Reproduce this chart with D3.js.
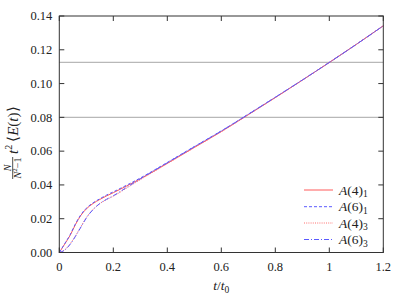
<!DOCTYPE html>
<html>
<head>
<meta charset="utf-8">
<script src="https://cdn.jsdelivr.net/npm/d3@7"></script>
<style>
  body { margin: 0; background: #fff; }
  text { font-family: "Liberation Serif", serif; fill: #222; }
</style>
</head>
<body>
<svg></svg>
<script>
let WIDTH = 408;
let HEIGHT = 296;

// flow time t/t0 and the four measurements
const tVals = [0, 0.02, 0.04, 0.06, 0.08, 0.10, 0.125, 0.15, 0.175, 0.2, 0.25, 0.3, 0.4, 0.5, 0.6, 0.7, 0.8, 0.9, 1.0, 1.1, 1.2];
const A4_1 = [0, 0.0050, 0.0101, 0.0166, 0.0220, 0.0258, 0.0290, 0.0314, 0.0335, 0.0354, 0.0394, 0.0436, 0.0528, 0.0622, 0.0716, 0.0816, 0.0917, 0.1020, 0.1125, 0.1232, 0.1342];
const A6_1 = [0, 0.0052, 0.0105, 0.0170, 0.0224, 0.0262, 0.0294, 0.0318, 0.0340, 0.0359, 0.0399, 0.0441, 0.0533, 0.0627, 0.0720, 0.0819, 0.0919, 0.1021, 0.1125, 0.1232, 0.1342];
const A4_3 = [0, 0.0016, 0.0051, 0.0099, 0.0153, 0.0206, 0.0255, 0.0289, 0.0313, 0.0333, 0.0382, 0.0431, 0.0526, 0.0621, 0.0715, 0.0815, 0.0917, 0.1020, 0.1125, 0.1232, 0.1342];
const A6_3 = [0, 0.0014, 0.0048, 0.0096, 0.0150, 0.0204, 0.0254, 0.0290, 0.0315, 0.0336, 0.0386, 0.0436, 0.0531, 0.0626, 0.0719, 0.0818, 0.0919, 0.1021, 0.1125, 0.1232, 0.1342];

const xTicks = [0, 0.2, 0.4, 0.6, 0.8, 1, 1.2];
const yTicks = [0, 0.02, 0.04, 0.06, 0.08, 0.10, 0.12, 0.14];
const refLines = [0.1125, 0.08];

const series = [
    {name: 'A(4)', sub: '1', values: A4_1, color: '#ff5a5a', dash: null},
    {name: 'A(6)', sub: '1', values: A6_1, color: '#5a5aff', dash: '3,2'},
    {name: 'A(4)', sub: '3', values: A4_3, color: '#ff7070', dash: '1,1.2'},
    {name: 'A(6)', sub: '3', values: A6_3, color: '#5a5aff', dash: '5,2,1,2'}
];

let svg = d3.select('svg')
    .attr('width', WIDTH)
    .attr('height', HEIGHT);

const margin = {left: 59.3, right: WIDTH - 383.3, top: 16, bottom: HEIGHT - 252.5};

let x = d3.scaleLinear().domain([0, 1.2]).range([margin.left, WIDTH - margin.right]);
let y = d3.scaleLinear().domain([0, 0.14]).range([HEIGHT - margin.bottom, margin.top]);

// reference lines
svg.append('g')
    .selectAll('line')
    .data(refLines)
    .enter()
    .append('line')
        .attr('x1', x(0))
        .attr('x2', x(1.2))
        .attr('y1', (d) => y(d))
        .attr('y2', (d) => y(d))
        .attr('stroke', '#b8b8b8')
        .attr('stroke-width', 1.2);

// curves
let line = d3.line()
    .x((d, i) => x(tVals[i]))
    .y((d) => y(d))
    .curve(d3.curveMonotoneX);

svg.append('g')
    .selectAll('path')
    .data(series)
    .enter()
    .append('path')
        .attr('d', (d) => line(d.values))
        .attr('fill', 'none')
        .attr('stroke', (d) => d.color)
        .attr('stroke-width', 1)
        .attr('stroke-dasharray', (d) => d.dash);

// ticks on all four sides, pointing inward
const tickLen = 5;
let ticks = svg.append('g').attr('stroke', '#333').attr('stroke-width', 1);
xTicks.forEach((t) => {
    ticks.append('line').attr('x1', x(t)).attr('x2', x(t)).attr('y1', y(0)).attr('y2', y(0) - tickLen);
    ticks.append('line').attr('x1', x(t)).attr('x2', x(t)).attr('y1', y(0.14)).attr('y2', y(0.14) + tickLen);
});
yTicks.forEach((t) => {
    ticks.append('line').attr('x1', x(0)).attr('x2', x(0) + tickLen).attr('y1', y(t)).attr('y2', y(t));
    ticks.append('line').attr('x1', x(1.2)).attr('x2', x(1.2) - tickLen).attr('y1', y(t)).attr('y2', y(t));
});

// frame
svg.append('rect')
    .attr('x', x(0))
    .attr('y', y(0.14))
    .attr('width', x(1.2) - x(0))
    .attr('height', y(0) - y(0.14))
    .attr('fill', 'none')
    .attr('stroke', '#333')
    .attr('stroke-width', 1);

// tick labels
svg.append('g')
    .selectAll('text')
    .data(xTicks)
    .enter()
    .append('text')
        .attr('x', (d) => x(d))
        .attr('y', y(0) + 18)
        .attr('text-anchor', 'middle')
        .attr('font-size', 12.5)
        .text((d) => d === 0 || d === 1 ? String(d) : d.toFixed(1));

svg.append('g')
    .selectAll('text')
    .data(yTicks)
    .enter()
    .append('text')
        .attr('x', x(0) - 7)
        .attr('y', (d) => y(d) + 4.3)
        .attr('text-anchor', 'end')
        .attr('font-size', 12.5)
        .text((d) => d.toFixed(2));

// x axis label
let xl = svg.append('text')
    .attr('x', (x(0) + x(1.2)) / 2)
    .attr('y', 290)
    .attr('text-anchor', 'middle')
    .attr('font-size', 13.5);
xl.append('tspan').attr('font-style', 'italic').text('t');
xl.append('tspan').text('/');
xl.append('tspan').attr('font-style', 'italic').text('t');
xl.append('tspan').attr('font-size', 9.5).attr('dy', 2.5).text('0');

// y axis label (rotated)
let yl = svg.append('g').attr('transform', 'translate(18,132) rotate(-90)');
yl.append('line')
    .attr('x1', -47).attr('x2', -25)
    .attr('y1', -5.3).attr('y2', -5.3)
    .attr('stroke', '#222').attr('stroke-width', 0.8);
yl.append('text')
    .attr('x', -36).attr('y', -7.3)
    .attr('text-anchor', 'middle')
    .attr('font-size', 10)
    .attr('font-style', 'italic')
    .text('N');
let den = yl.append('text')
    .attr('x', -36).attr('y', 2.8)
    .attr('text-anchor', 'middle')
    .attr('font-size', 10);
den.append('tspan').attr('font-style', 'italic').text('N');
den.append('tspan').attr('font-size', 7).attr('dy', -3.5).text('2');
den.append('tspan').attr('dy', 3.5).text('\u22121');
let yt = yl.append('text')
    .attr('x', -22).attr('y', 0)
    .attr('font-size', 15);
yt.append('tspan').attr('font-style', 'italic').text('t');
yt.append('tspan').attr('font-size', 10).attr('dy', -6).text('2');
yt.append('tspan').attr('dy', 6).text('\u2009\u27E8');
yt.append('tspan').attr('font-style', 'italic').text('E');
yt.append('tspan').text('(');
yt.append('tspan').attr('font-style', 'italic').text('t');
yt.append('tspan').text(')\u27E9');

// legend
const legendY = [190, 206.7, 223, 239.5];
let legend = svg.append('g')
    .selectAll('g')
    .data(series)
    .enter()
    .append('g')
        .attr('transform', (d, i) => `translate(0,${legendY[i]})`);
legend.append('line')
    .attr('x1', 304).attr('x2', 333)
    .attr('y1', 0).attr('y2', 0)
    .attr('stroke', (d) => d.color)
    .attr('stroke-width', 1)
    .attr('stroke-dasharray', (d) => d.dash);
let lt = legend.append('text')
    .attr('x', 339)
    .attr('y', 4.5)
    .attr('font-size', 13.5);
lt.append('tspan').attr('font-style', 'italic').text('A');
lt.append('tspan').text((d) => d.name.slice(1));
lt.append('tspan').attr('font-size', 9.5).attr('dy', 2.5).text((d) => d.sub);
</script>
</body>
</html>
